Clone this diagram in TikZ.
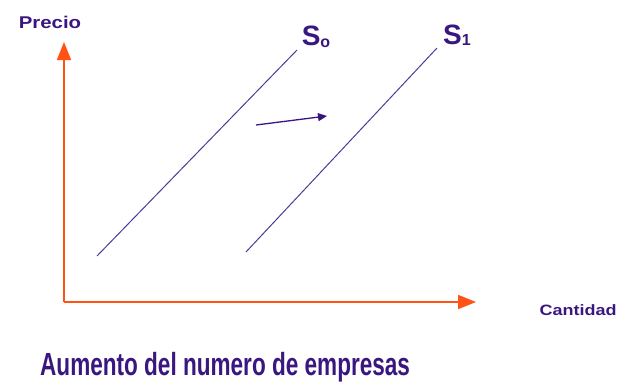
\documentclass[tikz,border=0pt]{standalone}
\usepackage{fontspec}
\setmainfont{Liberation Sans}
\usetikzlibrary{arrows.meta}
\definecolor{axisor}{HTML}{FF5214}
\definecolor{purp}{HTML}{3A1780}
\definecolor{linep}{HTML}{4E3A96}
\tikzset{
  axis/.style={draw=axisor, line width=1.8pt, -{Triangle[length=18pt,width=14pt]}},
  supply/.style={draw=linep, line width=1pt},
  lbl/.style={text=purp, font=\bfseries, inner sep=0pt}
}
\begin{document}
\begin{tikzpicture}[x=1pt,y=-1pt]
\useasboundingbox (0,0) rectangle (621,388);
\coordinate (O) at (64,302);
\coordinate (Ytip) at (64,42);
\coordinate (Xtip) at (476,302);
\draw[axis] (O) -- (Ytip);
\draw[axis] (O) -- (Xtip);
\node[lbl, font=\bfseries\fontsize{17}{19}\selectfont] (precio) at (50,22) {\scalebox{1.2}[1]{Precio}};
\node[lbl, font=\bfseries\fontsize{15}{17}\selectfont] (cant) at (578,310) {\scalebox{1.2}[1]{Cantidad}};
\coordinate (a0) at (97,256);
\coordinate (b0) at (297,50);
\coordinate (a1) at (246,252);
\coordinate (b1) at (437,48);
\draw[supply] (a0) -- (b0);
\draw[supply] (a1) -- (b1);
\node[lbl, font=\bfseries\fontsize{28}{30}\selectfont] (s0) at (316,37) {S\raisebox{-0.05em}{\fontsize{16}{17}\selectfont o}};
\node[lbl, font=\bfseries\fontsize{28}{30}\selectfont] (s1) at (457,35) {S\raisebox{-0.05em}{\fontsize{16}{17}\selectfont 1}};
\coordinate (sa) at (256,125);
\coordinate (sb) at (327,116);
\draw[draw=purp, line width=1.3pt, -{Triangle[length=9pt,width=8pt]}] (sa) -- (sb);
\node[lbl, anchor=west, font=\bfseries\fontsize{32}{34}\selectfont] (cap) at (40,367) {\scalebox{0.705}[1]{Aumento del numero de empresas}};
\end{tikzpicture}
\end{document}
